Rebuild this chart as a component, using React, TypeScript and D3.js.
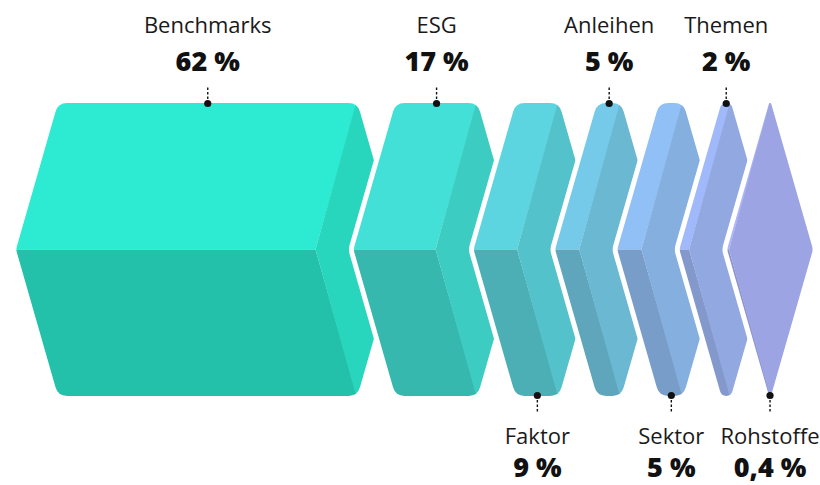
import React from "react";
import * as d3 from "d3";

const categories = ["Benchmarks", "ESG", "Faktor", "Anleihen", "Sektor", "Themen", "Rohstoffe"];
const values = [62, 17, 9, 5, 5, 2, 0.4];
const valueLabels = ["62 %", "17 %", "9 %", "5 %", "5 %", "2 %", "0,4 %"];
const labelSides = ["top", "top", "bottom", "top", "bottom", "top", "bottom"];
const topColors = ["#2cebd2", "#43e0d8", "#5cd5e0", "#74cae8", "#91c0f7", "#a0b9fa", "#abb4fc"];

const W = 820;
const H = 485;
const TOP = 103;
const BOT = 396;
const MID = (TOP + BOT) / 2;
const D = 42;
const OVERLAP = 4;
const X0 = 16;
const X1 = 813;

type Pt = [number, number];

function roundedPath(pts: Pt[], radii: number[]): string {
  const n = pts.length;
  const path = d3.path();
  const cuts: { a: Pt; b: Pt; v: Pt }[] = [];
  for (let i = 0; i < n; i++) {
    const p = pts[(i - 1 + n) % n];
    const v = pts[i];
    const q = pts[(i + 1) % n];
    const lp = Math.hypot(p[0] - v[0], p[1] - v[1]);
    const lq = Math.hypot(q[0] - v[0], q[1] - v[1]);
    const t = Math.min(radii[i], lp / 2, lq / 2);
    const a: Pt = lp ? [v[0] + ((p[0] - v[0]) * t) / lp, v[1] + ((p[1] - v[1]) * t) / lp] : v;
    const b: Pt = lq ? [v[0] + ((q[0] - v[0]) * t) / lq, v[1] + ((q[1] - v[1]) * t) / lq] : v;
    cuts.push({ a, b, v });
  }
  path.moveTo(cuts[0].b[0], cuts[0].b[1]);
  for (let k = 1; k <= n; k++) {
    const c = cuts[k % n];
    path.lineTo(c.a[0], c.a[1]);
    path.quadraticCurveTo(c.v[0], c.v[1], c.b[0], c.b[1]);
  }
  path.closePath();
  return path.toString();
}

const poly = (pts: Pt[]) => "M" + pts.map((p) => p.join(",")).join("L") + "Z";

export default function App() {
  const n = values.length;
  // total span = X0 + sum(w) + (n-1)*(D - OVERLAP) + 2D
  const availW = X1 - X0 - (n - 1) * (D - OVERLAP) - 2 * D;
  const x = d3.scaleLinear().domain([0, d3.sum(values)]).range([0, availW]);

  const shapes: { L: number; w: number; R: number }[] = [];
  let L = X0;
  values.forEach((v) => {
    const w = x(v);
    const R = L + w + D;
    shapes.push({ L, w, R });
    L = R - OVERLAP;
  });

  const font = "'Open Sans', 'Noto Sans', sans-serif";

  return (
    <svg width={W} height={H} style={{ position: "absolute", left: 0, top: 0 }}>
      <rect width={W} height={H} fill="#ffffff" />
      {shapes.map((s, i) => {
        const { L, R } = s;
        const outerPts: Pt[] = [
          [L, MID],
          [L + D, TOP],
          [R, TOP],
          [R + D, MID],
          [R, BOT],
          [L + D, BOT],
        ];
        const outer = roundedPath(outerPts, [3, 9, 9, 3, 9, 9]);
        const base = d3.rgb(topColors[i]);
        const side = d3.rgb(base.r * 0.91, base.g * 0.91, base.b * 0.9).formatHex();
        const bottom = d3.rgb(base.r * 0.82, base.g * 0.82, base.b * 0.81).formatHex();
        const clipId = `clip-${i}`;
        return (
          <g key={categories[i]}>
            <defs>
              <clipPath id={clipId}>
                <path d={outer} />
              </clipPath>
            </defs>
            {i > 0 && (
              <path d={outer} fill="#ffffff" stroke="#ffffff" strokeWidth={10} strokeLinejoin="round" />
            )}
            <g clipPath={`url(#${clipId})`}>
              <path d={poly([[L - 5, MID], [L + D, TOP - 5], [R + 1, TOP - 5], [R - D, MID]])} fill={topColors[i]} />
              <path d={poly([[L - 5, MID], [R - D, MID], [R + 1, BOT + 5], [L + D, BOT + 5]])} fill={bottom} />
              <path d={poly([[R, TOP - 5], [R + D + 5, MID], [R, BOT + 5], [R - D, MID]])} fill={side} />
            </g>
          </g>
        );
      })}
      {shapes.map((s, i) => {
        const cx = s.L + D + s.w / 2;
        const isTop = labelSides[i] === "top";
        const dotY = isTop ? TOP + 0.5 : BOT - 0.5;
        const lineEnd = isTop ? 86 : 413;
        const nameY = isTop ? 33 : 444;
        const valueY = isTop ? 71 : 477;
        return (
          <g key={"lab-" + categories[i]}>
            <line x1={cx} x2={cx} y1={dotY} y2={lineEnd} stroke="#111" strokeWidth={1.4} strokeDasharray="2.5,2" />
            <circle cx={cx} cy={dotY} r={3.6} fill="#111" />
            <text x={cx} y={nameY} textAnchor="middle" fontFamily={font} fontSize={22} fill="#1a1a1a">
              {categories[i]}
            </text>
            <text x={cx} y={valueY} textAnchor="middle" fontFamily={font} fontSize={27} fontWeight={800} fill="#111">
              {valueLabels[i]}
            </text>
          </g>
        );
      })}
    </svg>
  );
}
